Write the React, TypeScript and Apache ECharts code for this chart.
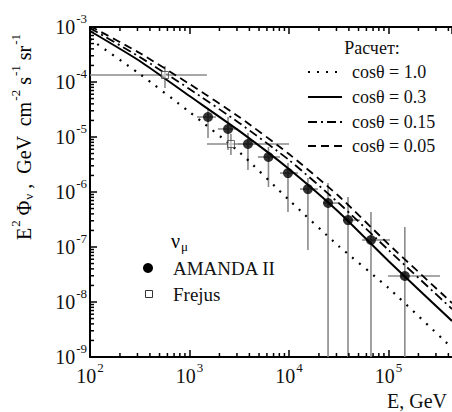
import React, { useEffect, useRef } from "react";
import * as echarts from "echarts";

// ---- Data ----
const calcE = [100, 316, 1000, 3160, 10000, 31600, 100000, 435000];
const fluxCos10 = [6.05e-4, 1.4e-4, 2.85e-5, 5.34e-6, 7.16e-7, 1.04e-7, 1.8e-8, 1.46e-9];
const fluxCos03 = [8.46e-4, 2.41e-4, 5.56e-5, 1.29e-5, 2.62e-6, 4.33e-7, 5.56e-8, 4.52e-9];
const fluxCos015 = [9.59e-4, 2.85e-4, 7.46e-5, 1.8e-5, 3.82e-6, 6.31e-7, 8.82e-8, 7.46e-9];
const fluxCos005 = [1.04e-3, 3.37e-4, 9.2e-5, 2.31e-5, 4.91e-6, 8.46e-7, 1.13e-7, 9.6e-9];

const amandaE = [1535, 2440, 3870, 6220, 9770, 15500, 24700, 39200, 66700, 146000];
const amandaFlux = [2.31e-5, 1.4e-5, 7.46e-6, 4.33e-6, 2.21e-6, 1.13e-6, 6.3e-7, 3.09e-7, 1.34e-7, 2.97e-8];
const amandaELow = [1190, 1930, 3070, 4870, 8130, 12900, 22000, 34900, 54200, 98900];
const amandaEHigh = [1845, 3070, 4870, 8130, 12300, 19500, 31000, 51700, 103500, 330000];
const amandaFluxLow = [9.6e-6, 5.8e-6, 2.51e-6, 1.23e-6, 4.33e-7, 8.8e-8, 1e-9, 1e-9, 1e-9, 1e-9];
const amandaFluxHigh = [3.1e-5, 2.31e-5, 1.18e-5, 6.58e-6, 3.37e-6, 1.8e-6, 1.46e-6, 8.1e-7, 4.33e-7, 2.31e-7];

const frejusE = [567, 2610];
const frejusFlux = [1.34e-4, 7.46e-6];
const frejusELow = [100, 1500];
const frejusEHigh = [1500, 10000];
const frejusFluxLow = [7.8e-5, 4.71e-6];
const frejusFluxHigh = [1.95e-4, 1.13e-5];

const xMin = 100;
const xMax = 435000;
const yMin = 1e-9;
const yMax = 1e-3;

const legendTitle = "Расчет:";
const legendLabels = ["cosθ = 1.0", "cosθ = 0.3", "cosθ = 0.15", "cosθ = 0.05"];

const F = "Liberation Serif";
const TXT = "#111";

const lineStyles: any[] = [
  { type: [2, 7], width: 2.2 },
  { type: "solid", width: 2 },
  { type: [9, 4, 2, 4], width: 1.8 },
  { type: [8, 5], width: 1.8 },
];

function App() {
  const ref = useRef<HTMLDivElement>(null);

  useEffect(() => {
    if (!ref.current) return;
    const chart = echarts.init(ref.current, undefined, { renderer: "svg" });

    const pairs = (xs: number[], ys: number[]) => xs.map((x, i) => [x, ys[i]]);

    // minor log ticks (axis decoration)
    const minorTicks: number[][] = [];
    for (let n = 2; n <= 5; n++) {
      for (let k = 2; k <= 9; k++) {
        const v = k * Math.pow(10, n);
        if (v < xMax) minorTicks.push([v, yMin, 0]);
      }
    }
    for (let n = -9; n <= -4; n++) {
      for (let k = 2; k <= 9; k++) {
        minorTicks.push([xMin, k * Math.pow(10, n), 1]);
      }
    }

    const amandaBars = amandaE.map((e, i) => [
      e, amandaFlux[i], amandaELow[i], amandaEHigh[i], amandaFluxLow[i], amandaFluxHigh[i],
    ]);
    const frejusBars = frejusE.map((e, i) => [
      e, frejusFlux[i], frejusELow[i], frejusEHigh[i], frejusFluxLow[i], frejusFluxHigh[i],
    ]);

    const errRender = (params: any, api: any) => {
      const e = api.value(0);
      const f = api.value(1);
      const a = api.coord([api.value(2), f]);
      const b = api.coord([api.value(3), f]);
      const c = api.coord([e, api.value(4)]);
      const d = api.coord([e, api.value(5)]);
      const st = { stroke: "#8a8a8a", lineWidth: 1.6 };
      return {
        type: "group",
        children: [
          { type: "line", shape: { x1: a[0], y1: a[1], x2: b[0], y2: b[1] }, style: st },
          { type: "line", shape: { x1: c[0], y1: c[1], x2: d[0], y2: d[1] }, style: st },
        ],
      };
    };

    const labelRich = {
      b: { fontSize: 20, fontFamily: F, color: TXT, lineHeight: 30 },
      s: { fontSize: 13, fontFamily: F, color: TXT, lineHeight: 13, verticalAlign: "top", padding: [0, 0, 0, 1] },
    };
    const fmt = (v: number) => `{b|10}{s|${Math.round(Math.log10(v))}}`;

    const curveSeries = [fluxCos10, fluxCos03, fluxCos015, fluxCos005].map((ys, i) => ({
      type: "line",
      name: legendLabels[i],
      data: pairs(calcE, ys),
      showSymbol: false,
      smooth: 0.2,
      lineStyle: { color: "#000", ...lineStyles[i] },
      z: 3,
      silent: true,
    }));

    const legendGraphics: any[] = [
      {
        type: "text",
        x: 372,
        y: 48,
        style: { text: legendTitle, fontSize: 18, fontFamily: F, fill: TXT, align: "center", verticalAlign: "middle" },
      },
    ];
    const legendY = [72, 97, 122, 146];
    legendLabels.forEach((lab, i) => {
      const ls = lineStyles[i];
      legendGraphics.push({
        type: "line",
        shape: { x1: 308, y1: legendY[i], x2: 342, y2: legendY[i] },
        style: { stroke: "#000", lineWidth: ls.width, lineDash: ls.type === "solid" ? null : ls.type },
      });
      legendGraphics.push({
        type: "text",
        x: 352,
        y: legendY[i],
        style: { text: lab, fontSize: 18, fontFamily: F, fill: TXT, align: "left", verticalAlign: "middle" },
      });
    });

    const richTitle = {
      b: { fontSize: 20, fontFamily: F, color: TXT, lineHeight: 30 },
      s: { fontSize: 13, fontFamily: F, color: TXT, lineHeight: 13, verticalAlign: "top", padding: [0, 0, 0, 1] },
      u: { fontSize: 13, fontFamily: F, color: TXT, lineHeight: 13, verticalAlign: "bottom", padding: [0, 0, 4, 1] },
    };

    chart.setOption({
      animation: false,
      backgroundColor: "#fff",
      grid: { left: 90, top: 27, right: 0, bottom: 55 },
      xAxis: [
        {
          type: "log",
          logBase: 10,
          min: xMin,
          max: xMax,
          position: "bottom",
          axisLine: { lineStyle: { color: "#000", width: 2 } },
          axisTick: { inside: true, length: 7, lineStyle: { color: "#000", width: 1.5 } },
          axisLabel: { formatter: fmt, rich: labelRich, margin: 4, showMaxLabel: false },
          splitLine: { show: false },
        },
        {
          type: "log",
          logBase: 10,
          min: xMin,
          max: xMax,
          position: "top",
          axisLine: { lineStyle: { color: "#000", width: 2 } },
          axisTick: { inside: true, length: 7, lineStyle: { color: "#000", width: 1.5 } },
          axisLabel: { show: false },
          splitLine: { show: false },
        },
      ],
      yAxis: {
        type: "log",
        logBase: 10,
        min: yMin,
        max: yMax,
        axisLine: { lineStyle: { color: "#000", width: 2 } },
        axisTick: { inside: true, length: 7, lineStyle: { color: "#000", width: 1.5 } },
        axisLabel: { formatter: fmt, rich: labelRich, margin: 3 },
        splitLine: { show: false },
      },
      graphic: [
        ...legendGraphics,
        {
          type: "text",
          x: 24,
          y: 137,
          rotation: Math.PI / 2,
          style: {
            text: "{b|E}{s|2}{b| Φ}{u|ν}{b| ,  GeV  cm}{s|-2}{b| s}{s|-1}{b| sr}{s|-1}",
            rich: richTitle,
            align: "center",
            verticalAlign: "middle",
          },
        },
        {
          type: "text",
          x: 387,
          y: 401,
          style: { text: "E, GeV", fontSize: 20, fontFamily: F, fill: TXT, align: "left", verticalAlign: "middle" },
        },
        {
          type: "text",
          x: 171,
          y: 241,
          style: {
            text: "{b|ν}{u|μ}",
            rich: {
              b: { fontSize: 20, fontFamily: F, color: TXT, lineHeight: 30 },
              u: { fontSize: 13, fontFamily: F, color: TXT, lineHeight: 13, verticalAlign: "bottom", padding: [0, 0, 3, 1] },
            },
            align: "left",
            verticalAlign: "middle",
          },
        },
        { type: "circle", shape: { cx: 148, cy: 268, r: 5 }, style: { fill: "#000" } },
        {
          type: "text",
          x: 173,
          y: 268,
          style: { text: "AMANDA II", fontSize: 19, fontFamily: F, fill: TXT, align: "left", verticalAlign: "middle" },
        },
        { type: "rect", shape: { x: 145.5, y: 290.5, width: 7, height: 7 }, style: { fill: "#fff", stroke: "#333", lineWidth: 1 } },
        {
          type: "text",
          x: 173,
          y: 294,
          style: { text: "Frejus", fontSize: 19, fontFamily: F, fill: TXT, align: "left", verticalAlign: "middle" },
        },
      ],
      series: [
        {
          type: "custom",
          name: "minorTicks",
          data: minorTicks,
          encode: { x: 0, y: 1 },
          clip: false,
          silent: true,
          z: 4,
          renderItem: (params: any, api: any) => {
            const v0 = api.value(0);
            const v1 = api.value(1);
            const kind = api.value(2);
            const st = { stroke: "#000", lineWidth: 1.5 };
            if (kind === 0) {
              const b = api.coord([v0, yMin]);
              const t = api.coord([v0, yMax]);
              return {
                type: "group",
                children: [
                  { type: "line", shape: { x1: b[0], y1: b[1], x2: b[0], y2: b[1] - 4 }, style: st },
                  { type: "line", shape: { x1: t[0], y1: t[1], x2: t[0], y2: t[1] + 4 }, style: st },
                ],
              };
            }
            const l = api.coord([xMin, v1]);
            return { type: "line", shape: { x1: l[0], y1: l[1], x2: l[0] + 4, y2: l[1] }, style: st };
          },
        },
        {
          type: "custom",
          name: "AMANDA errors",
          data: amandaBars,
          encode: { x: 0, y: 1 },
          clip: true,
          silent: true,
          z: 2,
          renderItem: errRender,
        },
        {
          type: "custom",
          name: "Frejus errors",
          data: frejusBars,
          encode: { x: 0, y: 1 },
          clip: true,
          silent: true,
          z: 2,
          renderItem: errRender,
        },
        ...curveSeries,
        {
          type: "scatter",
          name: "AMANDA II",
          data: pairs(amandaE, amandaFlux),
          symbol: "circle",
          symbolSize: 10,
          itemStyle: { color: "#000" },
          z: 5,
          silent: true,
        },
        {
          type: "scatter",
          name: "Frejus",
          data: pairs(frejusE, frejusFlux),
          symbol: "rect",
          symbolSize: 7,
          itemStyle: { color: "rgba(255,255,255,0.6)", borderColor: "#444", borderWidth: 1 },
          z: 5,
          silent: true,
        },
      ],
    });

    return () => chart.dispose();
  }, []);

  return (
    <div
      ref={ref}
      style={{ position: "fixed", left: 0, top: 0, width: 452, height: 412, background: "#fff" }}
    />
  );
}

export default App;
